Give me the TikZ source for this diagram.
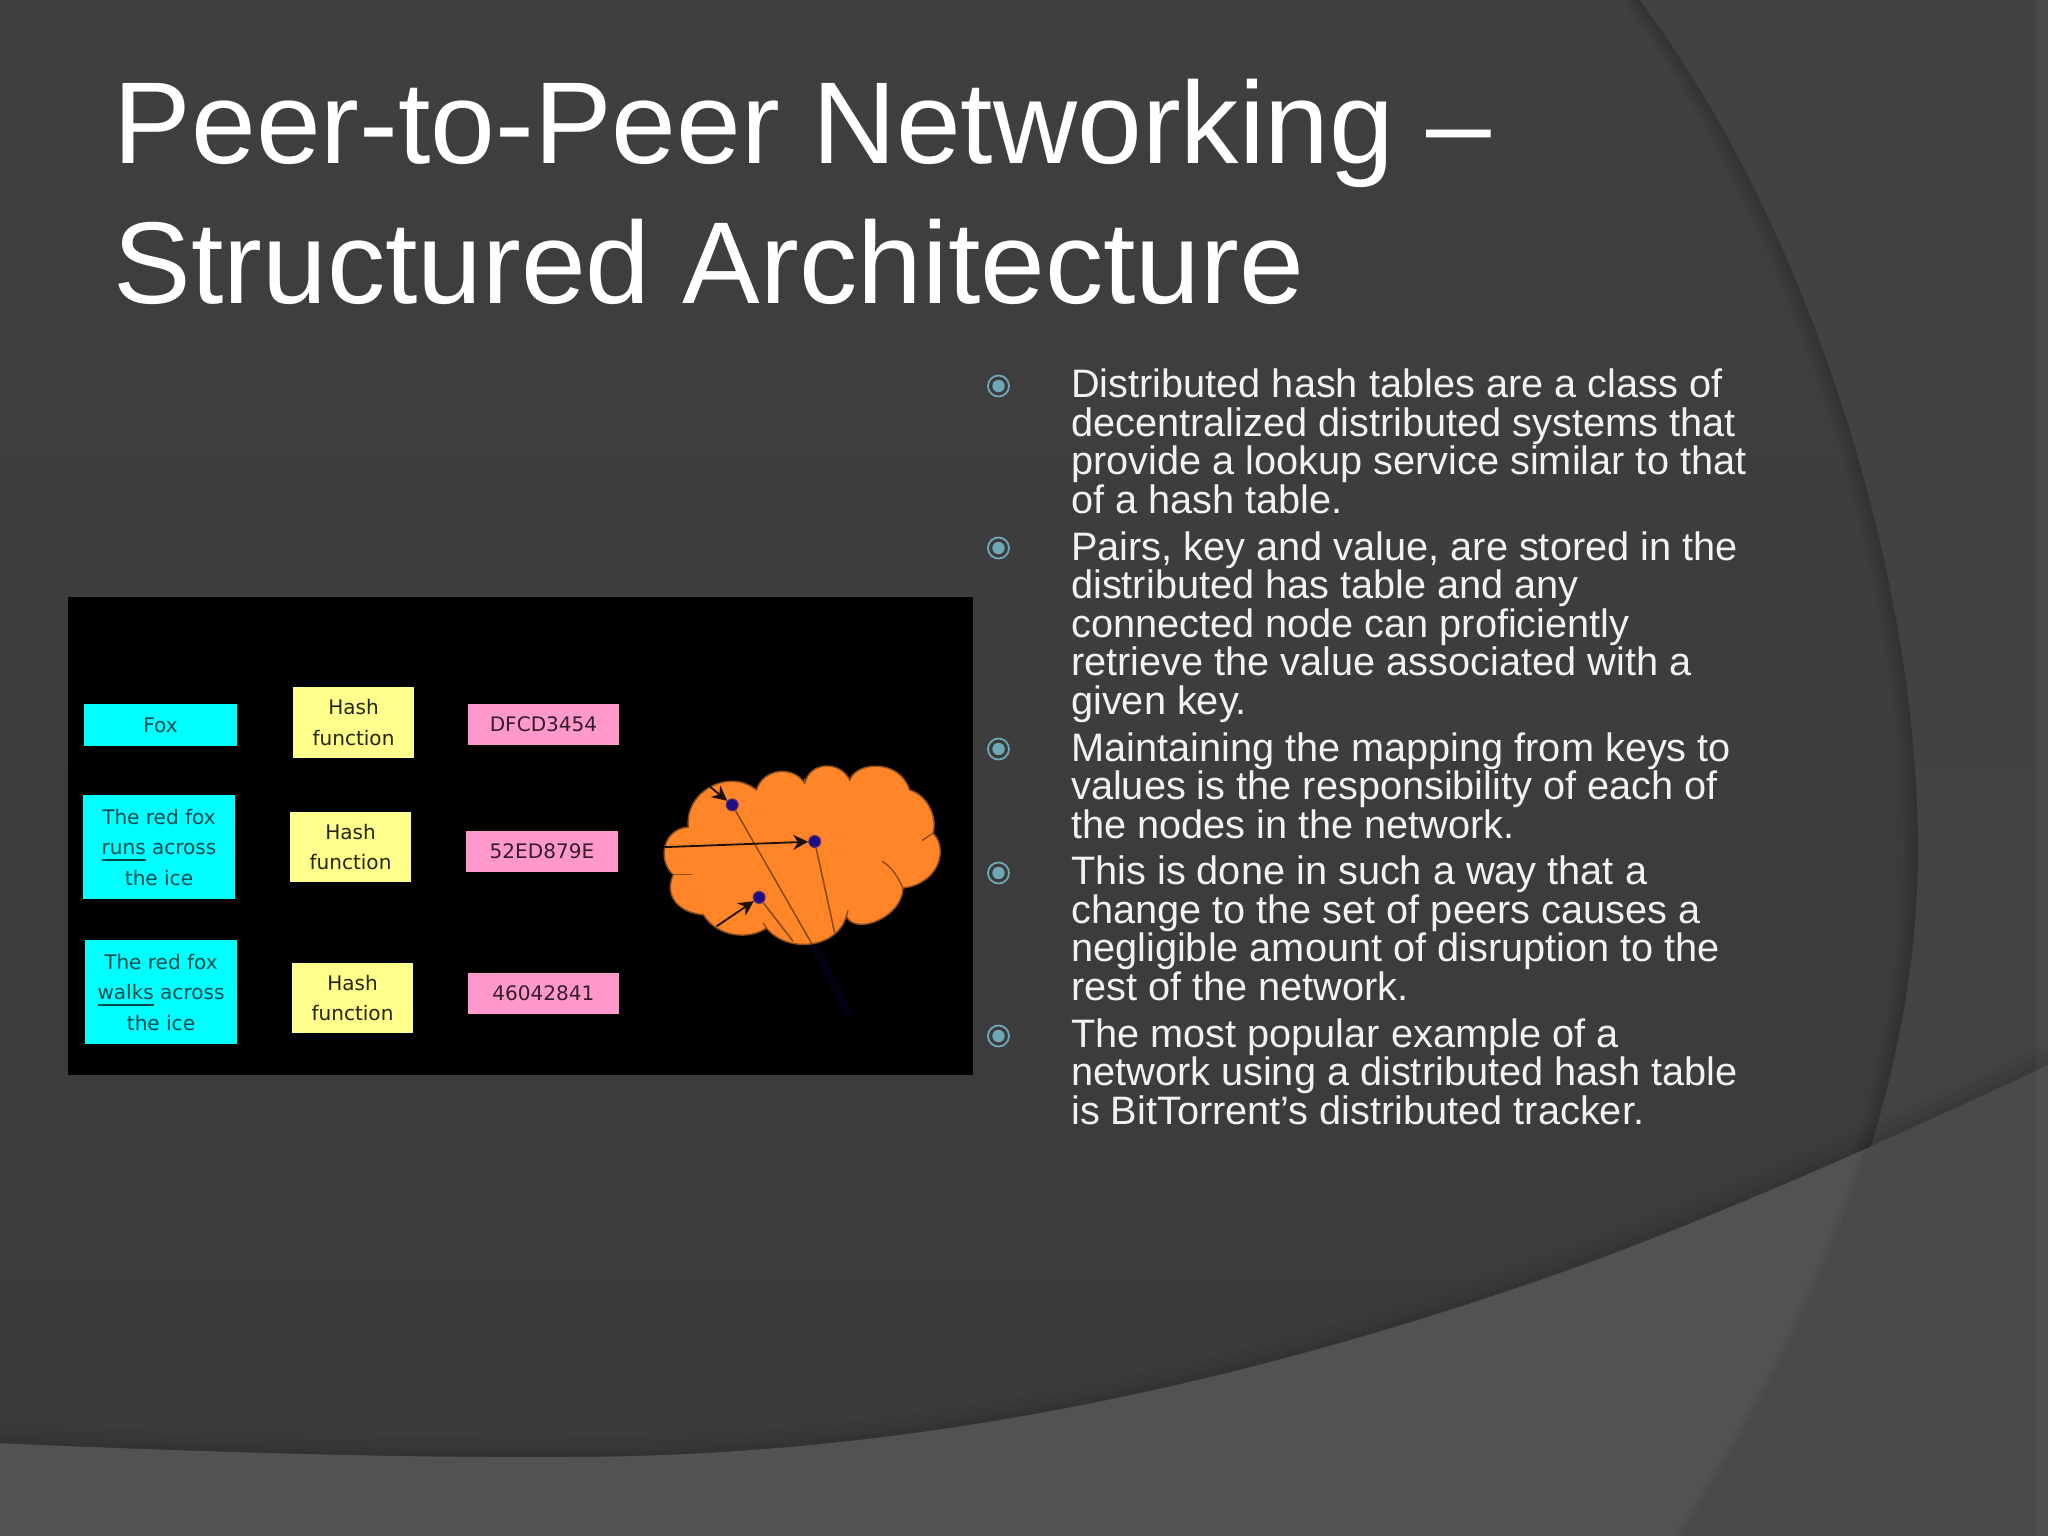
\documentclass[tikz,border=0pt]{standalone}
\usepackage{fontspec}
\setmainfont{Liberation Sans}
\newfontfamily\boxfont{DejaVu Sans}
\usetikzlibrary{arrows.meta}
\definecolor{slidetop}{HTML}{3F3F3F}
\definecolor{slidelow}{HTML}{3B3A3C}
\definecolor{sideup}{HTML}{424242}
\definecolor{sidelow}{HTML}{444345}
\definecolor{bandleft}{HTML}{525153}
\definecolor{bandright}{HTML}{4A494B}
\definecolor{teal}{HTML}{6FA8B5}
\definecolor{keycol}{HTML}{00FFFF}
\definecolor{hashcol}{HTML}{FFFF8C}
\definecolor{digestcol}{HTML}{FF99CC}
\definecolor{cloudcol}{HTML}{FF8528}
\definecolor{cloudline}{HTML}{8A4E1E}
\definecolor{peercol}{HTML}{1C0F86}
\tikzstyle{edge} = [-{Stealth[length=0.15cm,width=0.15cm]}, line width=0.018cm, black!80!cloudline]
\tikzstyle{link} = [line width=0.016cm, cloudline]
\tikzstyle{cleft} = [line width=0.014cm, cloudline]
\tikzstyle{databox} = [inner sep=0pt, align=center, text depth=0pt, font=\boxfont\fontsize{5.7}{8.7}\selectfont]
\tikzstyle{keybox} = [databox, fill=keycol, text=black!70!keycol, minimum width=1.52cm]
\tikzstyle{hashbox} = [databox, fill=hashcol, text=black!85!hashcol, minimum width=1.21cm, minimum height=0.705cm]
\tikzstyle{digestbox} = [databox, fill=digestcol, text=black!80!digestcol, minimum width=1.51cm, minimum height=0.41cm]
\tikzstyle{peer} = [circle, fill=peercol, draw=peercol!70!cloudcol, line width=0.01cm, minimum size=0.12cm, inner sep=0pt]
\tikzstyle{ring} = [circle, draw=teal, line width=0.018cm, fill=slidelow, minimum size=0.21cm, inner sep=0pt, path picture={\fill[teal] (path picture bounding box.center) circle (0.062cm);}]
\tikzstyle{body} = [anchor=base west, inner sep=0pt, align=left, text=white!95!black, font=\fontsize{11.29}{10.92}\selectfont]
\newcommand{\arcline}{(1636,-5) .. controls (1800,210) and (1918,560) .. (1918,850) .. controls (1918,1100) and (1810,1340) .. (1682,1540)}
\newcommand{\bandline}{(-5,1443) .. controls (200,1452) and (400,1458) .. (561,1457) .. controls (800,1457) and (1120,1425) .. (1540,1280) .. controls (1700,1225) and (1900,1135) .. (2053,1063)}
\begin{document}
\begin{tikzpicture}[x=0.01cm, y=-0.01cm]
	\useasboundingbox (0,0) rectangle (2048,1536);
	% backdrop
	\shade[top color=slidetop, bottom color=slidelow] (0,0) rectangle (2048,1536);
	\foreach \w in {0.3,0.22,0.14,0.07}
		\draw[black, opacity=0.035, line width=\w cm] \arcline;
	\shade[top color=sideup, bottom color=sidelow] \arcline -- (2053,1540) -- (2053,-5) -- cycle;
	\foreach \w in {0.4,0.28,0.16,0.08}
		\draw[black, opacity=0.03, line width=\w cm] \bandline;
	\fill[bandleft] \bandline -- (2053,1540) -- (-5,1540) -- cycle;
	\begin{scope}
		\clip \bandline -- (2053,1540) -- (-5,1540) -- cycle;
		\foreach \w in {0.2,0.12,0.06}
			\draw[black, opacity=0.03, line width=\w cm] \arcline;
		\fill[bandright] \arcline -- (2053,1540) -- (2053,-5) -- cycle;
	\end{scope}
	\fill[white, opacity=0.03] (2036,0) rectangle (2048,1536);

	% title
	\node[anchor=base west, inner sep=0pt, align=left, text=white, font=\fontsize{33.1}{39.8}\selectfont] (title) at (113,303) {Peer-to-Peer Networking --\\Structured Architecture};

	% screenshot
	\fill[black] (68,597) rectangle (973,1075);
	\node[keybox, minimum height=0.42cm] (fox) at (160.5,725) {Fox};
	\node[keybox, minimum height=1.04cm] (runs) at (159,847) {The red fox\\\underline{runs} across\\the ice};
	\node[keybox, minimum height=1.04cm] (walks) at (161,992) {The red fox\\\underline{walks} across\\the ice};
	\node[hashbox] (hasha) at (353.5,722.5) {Hash\\function};
	\node[hashbox] (hashb) at (350.5,847) {Hash\\function};
	\node[hashbox] (hashc) at (352.5,998) {Hash\\function};
	\node[digestbox] (diga) at (543.5,724.5) {DFCD3454};
	\node[digestbox] (digb) at (542,851) {52ED879E};
	\node[digestbox] (digc) at (543.5,993.5) {46042841};

	% cloud, in thirds of a pixel from its corner
	\begin{scope}[shift={(640,740)}, x=0.003333cm, y=-0.003333cm]
		\coordinate (tail) at (630,830);
		\coordinate (base) at (520,610);
		\draw[line width=0.08cm, peercol!14!black] (base) -- (tail);
		\fill[cloudcol, draw=cloudline, line width=0.014cm] (145,262)
			.. controls (135,150) and (270,85) .. (350,150)
			.. controls (370,85) and (460,75) .. (495,130)
			.. controls (510,65) and (600,60) .. (630,120)
			.. controls (650,65) and (780,55) .. (810,150)
			.. controls (865,165) and (895,235) .. (880,280)
			.. controls (925,320) and (905,430) .. (790,445)
			.. controls (790,530) and (650,590) .. (620,530)
			.. controls (590,630) and (440,640) .. (380,565)
			.. controls (330,600) and (235,595) .. (190,525)
			.. controls (120,520) and (70,470) .. (100,405)
			.. controls (50,360) and (70,265) .. (145,262) -- cycle;
		\draw[cleft] (880,280) -- (848,302);
		\draw[cleft] (790,445) .. controls (775,410) and (755,380) .. (728,365);
		\draw[cleft] (620,530) -- (625,512);
		\draw[cleft] (380,565) -- (370,550);
		\draw[cleft] (100,405) -- (155,405);
		\draw[cleft] (350,150) -- (335,140);
		\draw[cleft] (630,120) -- (640,104);
		\draw[cleft] (495,130) -- (495,115);
		\node[peer] (peera) at (277,195) {};
		\node[peer] (peerb) at (525,305) {};
		\node[peer] (peerc) at (358,473) {};
		\coordinate (taila) at (210,140);
		\coordinate (tailb) at (70,322);
		\coordinate (tailc) at (230,560);
		\coordinate (enda) at (515,610);
		\coordinate (endb) at (585,580);
		\coordinate (endc) at (460,605);
		\draw[link] (peera) -- (enda);
		\draw[link] (peerb) -- (endb);
		\draw[link] (peerc) -- (endc);
		\draw[edge] (taila) -- (peera);
		\draw[edge] (tailb) -- (peerb);
		\draw[edge] (tailc) -- (peerc);
	\end{scope}

	% bullets
	\node[ring] (dota) at (998.5,386) {};
	\node[ring] (dotb) at (998.5,548) {};
	\node[ring] (dotc) at (998.5,749) {};
	\node[ring] (dotd) at (998.5,873) {};
	\node[ring] (dote) at (998.5,1036) {};
	\node[body] (para) at (1070.5,513) {Distributed hash tables are a class of\\decentralized distributed systems that\\provide a lookup service similar to that\\of a hash table.};
	\node[body] (parb) at (1070.5,714) {Pairs, key and value, are stored in the\\distributed has table and any\\connected node can proficiently\\retrieve the value associated with a\\given key.};
	\node[body] (parc) at (1070.5,838) {Maintaining the mapping from keys to\\values is the responsibility of each of\\the nodes in the network.};
	\node[body] (pard) at (1070.5,1000) {This is done in such a way that a\\change to the set of peers causes a\\negligible amount of disruption to the\\rest of the network.};
	\node[body] (pare) at (1070.5,1124) {The most popular example of a\\network using a distributed hash table\\is BitTorrent’s distributed tracker.};
\end{tikzpicture}
\end{document}
